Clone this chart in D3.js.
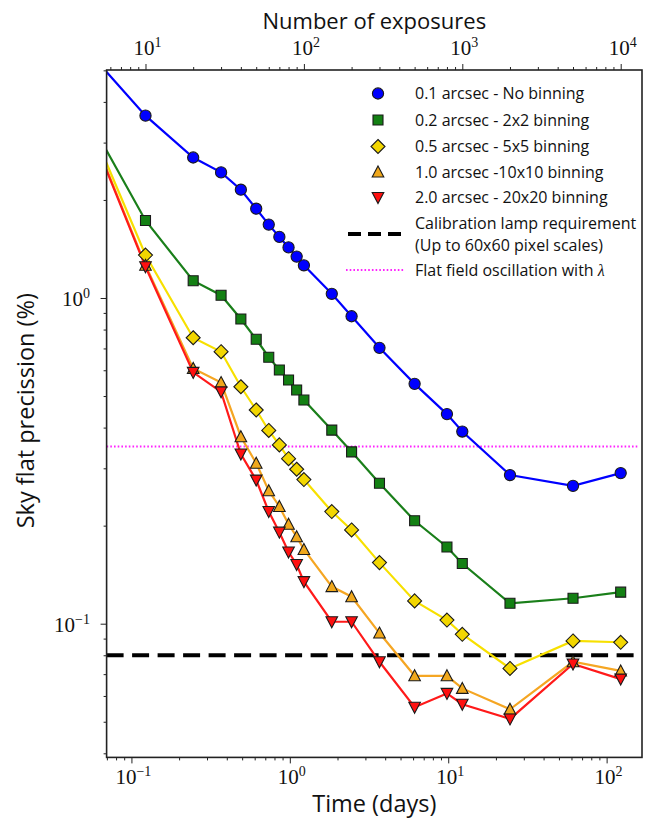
<!DOCTYPE html>
<html>
<head>
<meta charset="utf-8">
<script src="https://cdn.jsdelivr.net/npm/d3@7/dist/d3.min.js"></script>
<style>
  html, body { margin: 0; padding: 0; background: #ffffff; }
  svg { display: block; }
  text { fill: #111; }
</style>
</head>
<body>
<svg id="chart" width="648" height="820"></svg>
<script>
// ---------------- DATA ----------------
const exposures = [5, 10, 20, 30, 40, 50, 60, 70, 80, 90, 100, 150, 200, 300, 500, 800, 1000, 2000, 5000, 10000];
const noBinning   = [5.3, 3.63, 2.70, 2.43, 2.15, 1.88, 1.68, 1.54, 1.43, 1.34, 1.26, 1.03, 0.879, 0.703, 0.545, 0.440, 0.389, 0.286, 0.265, 0.290];
const bin2x2      = [3.17, 1.73, 1.13, 1.02, 0.862, 0.747, 0.658, 0.601, 0.560, 0.522, 0.486, 0.393, 0.337, 0.270, 0.207, 0.172, 0.153, 0.1155, 0.1197, 0.125];
const bin5x5      = [3.0, 1.355, 0.755, 0.684, 0.534, 0.453, 0.392, 0.354, 0.321, 0.298, 0.277, 0.221, 0.194, 0.154, 0.1175, 0.1026, 0.0928, 0.0729, 0.0885, 0.0877];
const bin10x10    = [2.9, 1.26, 0.608, 0.550, 0.375, 0.311, 0.256, 0.229, 0.202, 0.185, 0.169, 0.130, 0.121, 0.0936, 0.0692, 0.0692, 0.0633, 0.0546, 0.0764, 0.0716];
const bin20x20    = [2.87, 1.247, 0.591, 0.515, 0.332, 0.276, 0.221, 0.191, 0.166, 0.152, 0.1346, 0.1014, 0.1014, 0.0764, 0.0554, 0.0611, 0.0566, 0.0510, 0.0752, 0.0676];
const seriesLabels = ["0.1 arcsec - No binning", "0.2 arcsec - 2x2 binning", "0.5 arcsec - 5x5 binning", "1.0 arcsec -10x10 binning", "2.0 arcsec - 20x20 binning"];
const calibrationLevel = 0.08;     // Calibration lamp requirement (%)
const oscillationLevel = 0.35;     // Flat field oscillation with lambda (%)
const daysPerExposure = 0.01227;   // conversion between top and bottom axes
const bottomTickPowers = [-1, 0, 1, 2];
const topTickPowers = [1, 2, 3, 4];
const leftTickPowers = [-1, 0];

// ---------------- STYLE ----------------
const styles = [
  {line: "#0000ff", fill: "#0000ff", shape: "circle"},
  {line: "#1a7f1a", fill: "#138013", shape: "square"},
  {line: "#f7e000", fill: "#f2d600", shape: "diamond"},
  {line: "#f5a623", fill: "#f0a81c", shape: "up"},
  {line: "#ff1a1a", fill: "#ff1010", shape: "down"}
];
const seriesData = [noBinning, bin2x2, bin5x5, bin10x10, bin20x20];

// ---------------- LAYOUT ----------------
const L = 106.6, R = 642, T = 70, B = 757.4;
const svg = d3.select("#chart");
const sansFont = "'Open Sans', Lato, 'DejaVu Sans', sans-serif";
const serifFont = "'Liberation Serif', 'DejaVu Serif', serif";

const xN = d3.scaleLog().domain([5.681, 13630]).range([L, R]);
const xT = d3.scaleLog().domain(xN.domain().map(n => n * daysPerExposure)).range([L, R]);
const y = d3.scaleLog().domain([0.03886, 5.012]).range([B, T]);

function minorTicks(scale) {
  const [a, b] = scale.domain();
  const out = [];
  for (let p = Math.floor(Math.log10(a)); p <= Math.ceil(Math.log10(b)); p++) {
    for (let m = 2; m <= 9; m++) {
      const v = m * Math.pow(10, p);
      if (v >= a && v <= b) out.push(v);
    }
  }
  return out;
}

svg.append("rect").attr("x", 0).attr("y", 0).attr("width", 648).attr("height", 820).attr("fill", "#fff");

svg.append("defs").append("clipPath").attr("id", "clip")
  .append("rect").attr("x", L).attr("y", T).attr("width", R - L).attr("height", B - T);

// ---------------- AXES (ticks) ----------------
function drawAxis(axisGen, transform) {
  const g = svg.append("g").attr("transform", transform).call(axisGen);
  g.select(".domain").remove();
  g.selectAll("line").attr("stroke", "#222").attr("stroke-width", 1);
  g.selectAll("text").remove();
  return g;
}
drawAxis(d3.axisBottom(xT).tickValues(bottomTickPowers.map(p => Math.pow(10, p))).tickSize(6).tickFormat(""), `translate(0,${B})`);
drawAxis(d3.axisBottom(xT).tickValues(minorTicks(xT)).tickSize(3).tickFormat(""), `translate(0,${B})`);
drawAxis(d3.axisTop(xN).tickValues(topTickPowers.map(p => Math.pow(10, p))).tickSize(6).tickFormat(""), `translate(0,${T})`);
drawAxis(d3.axisTop(xN).tickValues(minorTicks(xN)).tickSize(3).tickFormat(""), `translate(0,${T})`);
drawAxis(d3.axisLeft(y).tickValues(leftTickPowers.map(p => Math.pow(10, p))).tickSize(6).tickFormat(""), `translate(${L},0)`);
drawAxis(d3.axisLeft(y).tickValues(minorTicks(y)).tickSize(3).tickFormat(""), `translate(${L},0)`);

function powLabel(x, yy, p, anchor) {
  const t = svg.append("text").attr("x", x).attr("y", yy)
    .attr("text-anchor", anchor).attr("font-family", serifFont).attr("font-size", 21);
  t.append("tspan").text("10");
  t.append("tspan").attr("dy", -8).attr("font-size", 14).text(p < 0 ? "\u2212" + (-p) : String(p));
  return t;
}
bottomTickPowers.forEach(p => powLabel(xT(Math.pow(10, p)) + 2, 784, p, "middle"));
topTickPowers.forEach(p => powLabel(xN(Math.pow(10, p)) + 2, 55, p, "middle"));
leftTickPowers.forEach(p => powLabel(90, y(Math.pow(10, p)) + 8, p, "end"));

// axis titles
svg.append("text").attr("x", (L + R) / 2).attr("y", 812).attr("text-anchor", "middle")
  .attr("font-family", sansFont).attr("font-size", 23.5).text("Time (days)");
svg.append("text").attr("x", (L + R) / 2).attr("y", 29).attr("text-anchor", "middle")
  .attr("font-family", sansFont).attr("font-size", 22).text("Number of exposures");
svg.append("text").attr("transform", `translate(34,${(T + B) / 2 - 3}) rotate(-90)`).attr("text-anchor", "middle")
  .attr("font-family", sansFont).attr("font-size", 23.5).text("Sky flat precission (%)");

// ---------------- PLOT ----------------
const plot = svg.append("g").attr("clip-path", "url(#clip)");

plot.append("line").attr("x1", L).attr("x2", R - 4).attr("y1", y(oscillationLevel)).attr("y2", y(oscillationLevel))
  .attr("stroke", "#ff22ff").attr("stroke-width", 2).attr("stroke-dasharray", "1.6,2.1");
plot.append("line").attr("x1", L).attr("x2", R - 4).attr("y1", y(calibrationLevel)).attr("y2", y(calibrationLevel))
  .attr("stroke", "#000").attr("stroke-width", 4).attr("stroke-dasharray", "17,8.5");

function markerPath(shape) {
  switch (shape) {
    case "circle": return d3.symbol().type(d3.symbolCircle).size(Math.PI * 5.6 * 5.6)();
    case "square": return "M-5,-5L5,-5L5,5L-5,5Z";
    case "diamond": return "M0,-7L7,0L0,7L-7,0Z";
    case "up": return "M0,-6L5.8,5L-5.8,5Z";
    case "down": return "M0,6L5.8,-5L-5.8,-5Z";
  }
}

const lineGen = d3.line().x(d => xN(d[0])).y(d => y(d[1]));
seriesData.forEach((vals, i) => {
  const pts = exposures.map((n, k) => [n, vals[k]]);
  plot.append("path").datum(pts).attr("d", lineGen)
    .attr("fill", "none").attr("stroke", styles[i].line).attr("stroke-width", 2.2);
});
seriesData.forEach((vals, i) => {
  const pts = exposures.map((n, k) => [n, vals[k]]);
  plot.selectAll(null).data(pts).enter().append("path")
    .attr("transform", d => `translate(${xN(d[0])},${y(d[1])})`)
    .attr("d", markerPath(styles[i].shape))
    .attr("fill", styles[i].fill).attr("stroke", "#1a1a1a").attr("stroke-width", 1.1);
});

svg.append("rect").attr("x", L).attr("y", T).attr("width", R - L).attr("height", B - T)
  .attr("fill", "none").attr("stroke", "#222").attr("stroke-width", 1.6);

// ---------------- LEGEND ----------------
const lg = svg.append("g");
const lx = 378, tx = 415;
const rowsY = [93.5, 120, 146.5, 172, 197.5];
const lfs = 16;
seriesLabels.forEach((lab, i) => {
  lg.append("path").attr("transform", `translate(${lx},${rowsY[i]})`).attr("d", markerPath(styles[i].shape))
    .attr("fill", styles[i].fill).attr("stroke", "#1a1a1a").attr("stroke-width", 1.1);
  lg.append("text").attr("x", tx).attr("y", rowsY[i] + 5.5).attr("font-family", sansFont).attr("font-size", lfs).text(lab);
});
lg.append("line").attr("x1", 348).attr("x2", 404).attr("y1", 234).attr("y2", 234)
  .attr("stroke", "#000").attr("stroke-width", 4).attr("stroke-dasharray", "13,7");
lg.append("text").attr("x", tx).attr("y", 228.5).attr("font-family", sansFont).attr("font-size", lfs).text("Calibration lamp requirement");
lg.append("text").attr("x", tx).attr("y", 250.5).attr("font-family", sansFont).attr("font-size", lfs).text("(Up to 60x60 pixel scales)");
lg.append("line").attr("x1", 346).attr("x2", 404).attr("y1", 270).attr("y2", 270)
  .attr("stroke", "#ff22ff").attr("stroke-width", 2).attr("stroke-dasharray", "1.6,2.1");
const ft = lg.append("text").attr("x", tx).attr("y", 275.5).attr("font-family", sansFont).attr("font-size", lfs);
ft.append("tspan").text("Flat field oscillation with ");
ft.append("tspan").attr("font-family", serifFont).attr("font-style", "italic").text("\u03bb");
</script>
</body>
</html>
